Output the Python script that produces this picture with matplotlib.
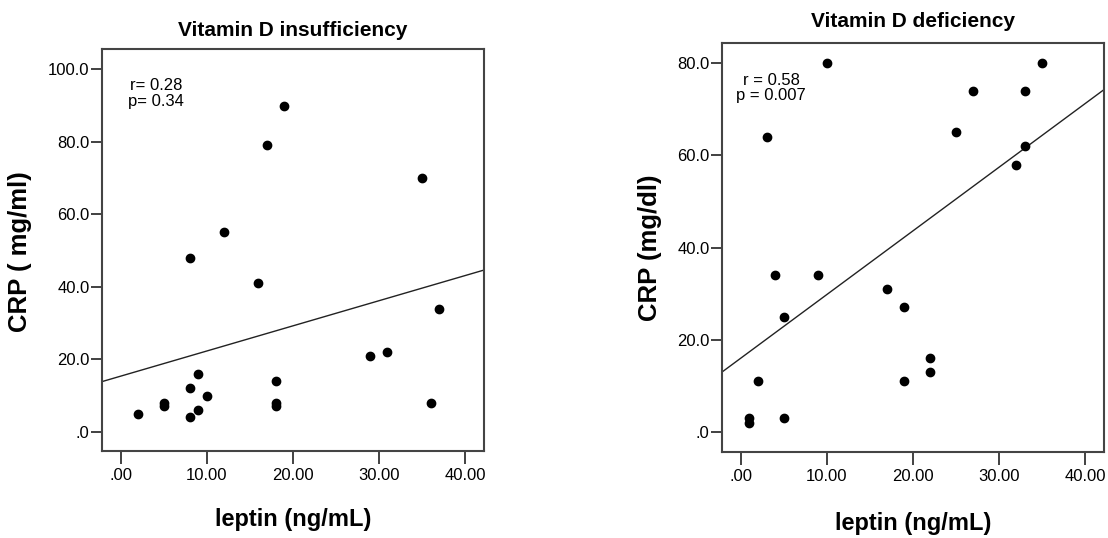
import numpy as np
import matplotlib
matplotlib.use("Agg")
import matplotlib.pyplot as plt

plt.rcParams['font.family'] = ['Liberation Sans', 'DejaVu Sans']

# Vitamin D insufficiency group
leptin_insuf = [2, 5, 5, 8, 8, 8, 9, 9, 10, 12, 16, 17, 19, 18, 18, 18, 29, 31, 35, 37, 36]
crp_insuf = [5, 8, 7, 48, 12, 4, 16, 6, 10, 55, 41, 79, 90, 14, 8, 7, 21, 22, 70, 34, 8]

# Vitamin D deficiency group
leptin_def = [10, 35, 27, 33, 3, 25, 33, 32, 4, 9, 17, 19, 5, 22, 22, 2, 19, 1, 1, 5]
crp_def = [80, 80, 74, 74, 64, 65, 62, 58, 34, 34, 31, 27, 25, 16, 13, 11, 11, 3, 2, 3]

x_ticks = [0, 10, 20, 30, 40]
x_tick_labels = ['.00', '10.00', '20.00', '30.00', '40.00']
y_ticks_insuf = [0, 20, 40, 60, 80, 100]
y_tick_labels_insuf = ['.0', '20.0', '40.0', '60.0', '80.0', '100.0']
y_ticks_def = [0, 20, 40, 60, 80]
y_tick_labels_def = ['.0', '20.0', '40.0', '60.0', '80.0']

fig = plt.figure(figsize=(11.08, 5.38), dpi=100)
ax1 = fig.add_axes([0.0918, 0.1617, 0.3449, 0.7472])
ax2 = fig.add_axes([0.6514, 0.1604, 0.3450, 0.7591])

panels = [
    (ax1, leptin_insuf, crp_insuf, 'Vitamin D insufficiency', 'CRP ( mg/ml)',
     (-5.3, 105.6), y_ticks_insuf, y_tick_labels_insuf, 'r= 0.28\np= 0.34',
     (0.142, 0.890), 9.6, (-0.182, 0.495), -0.142),
    (ax2, leptin_def, crp_def, 'Vitamin D deficiency', 'CRP (mg/dl)',
     (-4.3, 84.3), y_ticks_def, y_tick_labels_def, 'r = 0.58\np = 0.007',
     (0.129, 0.891), 11.8, (-0.157, 0.50), -0.148),
]

for ax, x, y, title, ylabel, ylim, yt, ytl, stats, stats_pos, tpad, ylab_pos, xlab_y in panels:
    ax.scatter(x, y, s=36, color='black', zorder=3)
    # least squares fit line
    slope, intercept = np.polyfit(x, y, 1)
    ax.axline((0, intercept), slope=slope, color='#222222', lw=1.0)

    ax.set_xlim(-2.2, 42.2)
    ax.set_ylim(*ylim)
    ax.set_xticks(x_ticks)
    ax.set_xticklabels(x_tick_labels)
    ax.set_yticks(yt)
    ax.set_yticklabels(ytl)
    ax.tick_params(labelsize=12, width=1.3, color='#333333')
    ax.tick_params(axis='x', length=9, pad=3.5)
    ax.tick_params(axis='y', length=7.8, pad=1)

    for sp in ax.spines.values():
        sp.set_linewidth(1.5)
        sp.set_color('#444444')

    ax.set_title(title, fontsize=15, fontweight='bold', pad=tpad)
    ax.set_xlabel('leptin (ng/mL)', fontsize=17, fontweight='bold')
    ax.xaxis.set_label_coords(0.5, xlab_y)
    ax.set_ylabel(ylabel, fontsize=18.5, fontweight='bold')
    ax.yaxis.set_label_coords(*ylab_pos)

    ax.text(stats_pos[0], stats_pos[1], stats, transform=ax.transAxes,
            ha='center', va='center', fontsize=12, linespacing=1.05)

fig.savefig('out.png', dpi=100)
